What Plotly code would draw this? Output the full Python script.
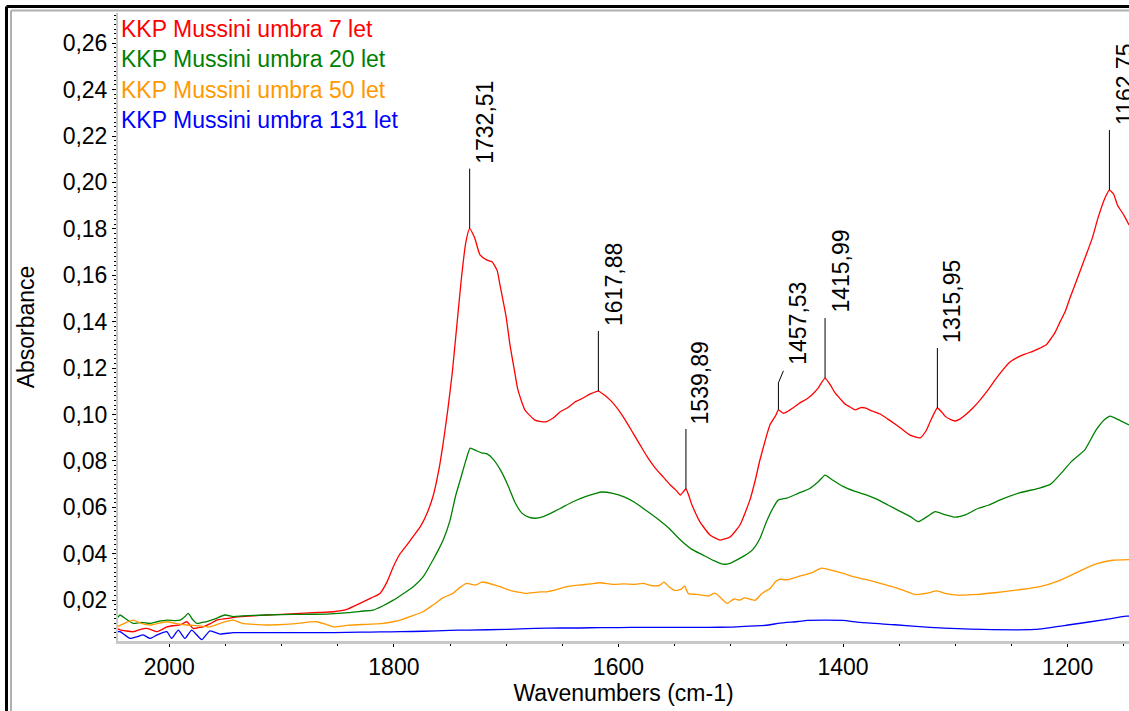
import numpy as np
import plotly.graph_objects as go

# ---- spectra (wavenumber cm-1, absorbance) ----
red_w = [2046.8, 2043.9, 2032.3, 2027, 2020.1, 2015, 2011.2, 2006, 2002.3, 1996, 1990.5,
         1984.5, 1978.6, 1974, 1969.7, 1963, 1957.8, 1950, 1937.0, 1925, 1913.3, 1900,
         1883.6, 1868, 1853.9, 1842, 1830.2, 1820, 1812.4, 1806, 1800.5, 1794.5, 1788,
         1782, 1776, 1770, 1765, 1760, 1756, 1752, 1748, 1744, 1740, 1736, 1732.51, 1728,
         1723.3, 1717, 1712.6, 1708, 1705.5, 1700, 1696.6, 1693, 1689.5, 1683.3, 1674.4,
         1665.5, 1658, 1652.1, 1645, 1638.7, 1632, 1625.4, 1617.88, 1607.3, 1600, 1593.9,
         1587, 1580.6, 1574, 1567.2, 1560, 1553.8, 1548, 1544.9, 1539.89, 1534.5, 1527.4,
         1518.5, 1509.6, 1500.7, 1491.8, 1482.9, 1478, 1474.0, 1468, 1465.1, 1460, 1457.53,
         1453, 1450.0, 1444, 1438.4, 1432, 1427.8, 1422, 1415.99, 1411, 1407.1, 1402, 1398.2,
         1393, 1389.3, 1384, 1380.4, 1374, 1367.0, 1360, 1353.7, 1347, 1340.3, 1331.4, 1326,
         1322.5, 1315.95, 1312, 1309.2, 1304, 1300.3, 1296, 1291.4, 1285, 1278.0, 1271,
         1264.7, 1258, 1251.3, 1245, 1238.0, 1231, 1224.6, 1219, 1215.7, 1211, 1206.8, 1202,
         1197.9, 1191, 1184.5, 1178, 1172.9, 1166.7, 1162.75, 1159, 1155.6, 1150, 1145.3]
red_a = [0.0078, 0.0072, 0.0064, 0.0072, 0.0078, 0.0070, 0.0064, 0.0075, 0.0085, 0.0090, 0.0093,
         0.0107, 0.0078, 0.0082, 0.0085, 0.0100, 0.0114, 0.0120, 0.0129, 0.0132, 0.0136, 0.0139,
         0.0143, 0.0147, 0.0150, 0.0160, 0.0186, 0.0210, 0.0229, 0.0280, 0.0344, 0.0400, 0.0440,
         0.0480, 0.0520, 0.0580, 0.0650, 0.0760, 0.0880, 0.1020, 0.1180, 0.1380, 0.1580, 0.1740, 0.1801, 0.1760,
         0.1688, 0.1665, 0.1658, 0.1620, 0.1558, 0.1420, 0.1300, 0.1200, 0.1106, 0.1020, 0.0976,
         0.0968, 0.0985, 0.1011, 0.1030, 0.1054, 0.1070, 0.1088, 0.1101, 0.1062, 0.1020, 0.0976,
         0.0920, 0.0868, 0.0815, 0.0769, 0.0730, 0.0696, 0.0670, 0.0653, 0.0679, 0.0610, 0.0537,
         0.0481, 0.0459, 0.0472, 0.0524, 0.0632, 0.0720, 0.0804, 0.0910, 0.0955, 0.0995, 0.1020,
         0.1005, 0.1011, 0.1030, 0.1050, 0.1068, 0.1084, 0.1115, 0.1157, 0.1125, 0.1093, 0.1065, 0.1045,
         0.1030, 0.1020, 0.1030, 0.1028, 0.1015, 0.1002, 0.0980, 0.0959, 0.0935, 0.0911, 0.0899, 0.0930,
         0.0968, 0.1028, 0.1010, 0.0993, 0.0978, 0.0972, 0.0980, 0.0997, 0.1025, 0.1062, 0.1105,
         0.1148, 0.1190, 0.1226, 0.1245, 0.1260, 0.1272, 0.1286, 0.1300, 0.1321, 0.1355, 0.1398, 0.1445,
         0.1502, 0.1590, 0.1674, 0.1760, 0.1847, 0.1933, 0.1967, 0.1950, 0.1903, 0.1860, 0.1817]

green_w = [2046.8, 2043.9, 2039, 2032.3, 2025, 2017.2, 2010, 2002.3, 1995, 1990.5, 1986, 1983.1,
           1979, 1975.6, 1970, 1966.7, 1960, 1950.4, 1943.0, 1935, 1925, 1913.3, 1900, 1880,
           1860, 1840, 1830, 1818.6, 1810, 1800.5, 1791, 1782.7, 1774, 1765.2, 1760, 1756,
           1750, 1745, 1741, 1736, 1732, 1727, 1722, 1717, 1712, 1705, 1698, 1692, 1686, 1680,
           1674, 1667, 1660, 1650, 1640, 1630, 1620, 1615, 1605, 1595, 1585, 1575, 1565, 1555,
           1545, 1535, 1525, 1515, 1507, 1500, 1492, 1485, 1480, 1474, 1468, 1462, 1457.7, 1450,
           1440, 1430, 1422, 1416, 1410, 1400, 1390, 1380, 1370, 1360, 1350, 1340, 1333, 1325,
           1318, 1310, 1300, 1290, 1280, 1270, 1260, 1243, 1225, 1215, 1207, 1196, 1184.5, 1175,
           1167, 1162, 1155, 1145.3]
green_a = [0.0120, 0.0136, 0.0120, 0.0100, 0.0104, 0.0100, 0.0108, 0.0114, 0.0112, 0.0114, 0.0130, 0.0143,
           0.0115, 0.0100, 0.0105, 0.0107, 0.0118, 0.0136, 0.0129, 0.0132, 0.0134, 0.0136, 0.0138, 0.0139,
           0.0140, 0.0146, 0.0152, 0.0157, 0.0175, 0.0200, 0.0230, 0.0258, 0.0300, 0.0373, 0.0420, 0.0460,
           0.0544, 0.0650, 0.0716, 0.0800, 0.0855, 0.0845, 0.0835, 0.0830, 0.0810, 0.0760, 0.0690, 0.0620, 0.0575, 0.0558,
           0.0553, 0.0560, 0.0575, 0.0600, 0.0625, 0.0645, 0.0660, 0.0666, 0.0660, 0.0645, 0.0620, 0.0585, 0.0550, 0.0510,
           0.0460, 0.0420, 0.0395, 0.0370, 0.0355, 0.0360, 0.0380, 0.0400, 0.0420, 0.0466, 0.0540, 0.0600, 0.0631, 0.0640,
           0.0660, 0.0680, 0.0710, 0.0739, 0.0720, 0.0690, 0.0670, 0.0655, 0.0635, 0.0610, 0.0585, 0.0560, 0.0538, 0.0560,
           0.0581, 0.0570, 0.0558, 0.0570, 0.0595, 0.0610, 0.0632, 0.0662, 0.0683, 0.0700, 0.0740, 0.0800, 0.0849, 0.0930,
           0.0978, 0.0993, 0.0978, 0.0955]

orange_w = [2046.8, 2040, 2032.3, 2025, 2017.2, 2010, 2002.3, 1995, 1984.5, 1975, 1963.8, 1955,
            1943.0, 1935, 1913.3, 1890, 1868.7, 1860, 1853.9, 1840, 1809.7, 1800, 1794.5, 1785,
            1774.1, 1765.2, 1756.3, 1747.4, 1741, 1735.2, 1727, 1722, 1717.4, 1710, 1705.5, 1695,
            1686, 1681.7, 1672, 1663.9, 1655, 1646.1, 1635, 1625, 1616.5, 1605, 1595, 1585, 1578,
            1570, 1563, 1559.5, 1555, 1550, 1545, 1541, 1537.7, 1530, 1520, 1514, 1509.6, 1503.4,
            1497, 1492, 1487.7, 1478.4, 1472.2, 1465, 1460, 1456.5, 1450, 1437.8, 1428, 1419.1,
            1410, 1400.4, 1390, 1378.7, 1365, 1353.8, 1345, 1335.1, 1325, 1316.4, 1308, 1297.7,
            1280, 1265, 1247.8, 1235, 1222.9, 1210, 1198, 1185, 1173, 1160, 1145.3]
orange_a = [0.0085, 0.0100, 0.0114, 0.0100, 0.0093, 0.0100, 0.0107, 0.0100, 0.0093, 0.0090, 0.0085, 0.0100,
            0.0114, 0.0100, 0.0093, 0.0098, 0.0107, 0.0095, 0.0085, 0.0092, 0.0100, 0.0108, 0.0114, 0.0130,
            0.0150, 0.0179, 0.0210, 0.0229, 0.0255, 0.0272, 0.0265, 0.0278, 0.0275, 0.0265, 0.0258, 0.0240,
            0.0232, 0.0229, 0.0235, 0.0236, 0.0245, 0.0258, 0.0265, 0.0270, 0.0275, 0.0268, 0.0270, 0.0268, 0.0272,
            0.0262, 0.0265, 0.0278, 0.0258, 0.0242, 0.0245, 0.0260, 0.0228, 0.0225, 0.0218, 0.0230, 0.0214, 0.0186,
            0.0205, 0.0200, 0.0210, 0.0199, 0.0229, 0.0250, 0.0280, 0.0290, 0.0288, 0.0305, 0.0318, 0.0338,
            0.0328, 0.0316, 0.0300, 0.0288, 0.0270, 0.0255, 0.0240, 0.0224, 0.0230, 0.0240, 0.0228, 0.0222,
            0.0225, 0.0232, 0.0242, 0.0250, 0.0260, 0.0280, 0.0305, 0.0335, 0.0358, 0.0372, 0.0375]

blue_w = [2046.8, 2043.9, 2035.0, 2029, 2023.2, 2017.2, 2011, 2002.3, 1997.9, 1992.0, 1986.0,
          1980.1, 1971.1, 1963.8, 1954.9, 1943.0, 1913.3, 1880, 1853.9, 1830, 1812, 1794,
          1774.1, 1750, 1733.5, 1700, 1674.4, 1650, 1634, 1616.5, 1600, 1578, 1550, 1520,
          1500, 1487.7, 1474, 1465, 1456.5, 1440, 1431.6, 1400.4, 1385, 1353.8, 1322.6,
          1275.8, 1229.1, 1198, 1166.8, 1148, 1145.3]
blue_a = [0.0064, 0.0064, 0.0035, 0.0042, 0.0050, 0.0035, 0.0050, 0.0064, 0.0035, 0.0071, 0.0035,
          0.0071, 0.0030, 0.0068, 0.0054, 0.0060, 0.0060, 0.0060, 0.0060, 0.0062, 0.0063, 0.0064,
          0.0066, 0.0070, 0.0071, 0.0074, 0.0078, 0.0080, 0.0080, 0.0082, 0.0082, 0.0083, 0.0083, 0.0083,
          0.0084, 0.0087, 0.0090, 0.0094, 0.0101, 0.0108, 0.0113, 0.0113, 0.0104, 0.0094, 0.0083,
          0.0074, 0.0074, 0.0094, 0.0116, 0.0131, 0.0131]

series_names = ["KKP Mussini umbra 7 let", "KKP Mussini umbra 20 let",
                "KKP Mussini umbra 50 let", "KKP Mussini umbra 131 let"]
series_colors = ["#FF0000", "#008000", "#FF9900", "#0000FF"]

# peaks marked on the 7-year spectrum
peak_w = [1732.51, 1617.88, 1539.89, 1457.53, 1415.99, 1315.95, 1162.75]

x_range = [2045.7, 1145.3]
y_range = [0.0024, 0.273]
FONT = "Liberation Sans, Arial, sans-serif"
FS = 23

fig = go.Figure()
for w, a, name, col in zip([red_w, green_w, orange_w, blue_w],
                           [red_a, green_a, orange_a, blue_a],
                           series_names, series_colors):
    fig.add_trace(go.Scatter(x=w, y=a, mode="lines", name=name,
                             line=dict(color=col, width=1.3, shape="spline", smoothing=0.5),
                             showlegend=False, hoverinfo="skip"))

# colored series names in the upper left corner
for i, (name, col) in enumerate(zip(series_names, series_colors)):
    fig.add_annotation(xref="paper", yref="paper", x=0, y=1, xanchor="left", yanchor="middle",
                       xshift=1, yshift=-16 - 30.4 * i, text=name, showarrow=False,
                       font=dict(family=FONT, size=FS, color=col))

# peak leader lines and rotated labels
red_arr_w = np.array(red_w)[::-1]
red_arr_a = np.array(red_a)[::-1]
for pw in peak_w:
    pa = float(np.interp(pw, red_arr_w, red_arr_a))
    label = f"{pw:.2f}".replace(".", ",")
    if abs(pw - 1457.53) < 1e-6:
        fig.add_shape(type="path", xref="x", yref="y", xsizemode="pixel", ysizemode="pixel",
                      xanchor=pw, yanchor=pa, path="M0,0 L0,27 L5,39",
                      line=dict(color="black", width=1))
        xs, ys = 20, 43
    else:
        fig.add_shape(type="line", xref="x", yref="y", ysizemode="pixel", yanchor=pa,
                      x0=pw, x1=pw, y0=0, y1=60, line=dict(color="black", width=1))
        xs, ys = 15, 63
    fig.add_annotation(x=pw, y=pa, xref="x", yref="y", text=label, textangle=-90,
                       showarrow=False, xanchor="center", yanchor="bottom",
                       xshift=xs, yshift=ys, font=dict(family=FONT, size=FS, color="black"))

# window frame (black outer, grey inner) on the top and left
frame = [(-111.5, "black", 3, 6.5), (-107, "#b0b0b0", 2, 2.5)]
for xo, col, lw, yo in frame:
    fig.add_shape(type="line", xref="paper", yref="paper", xsizemode="pixel", ysizemode="pixel",
                  xanchor=0, yanchor=1, x0=xo, x1=xo, y0=yo, y1=-720,
                  line=dict(color=col, width=lw))
    fig.add_shape(type="line", xref="paper", yref="paper", xsizemode="pixel", ysizemode="pixel",
                  xanchor=0, yanchor=1, x0=xo, x1=1200, y0=yo, y1=yo,
                  line=dict(color=col, width=lw))

fig.update_layout(
    width=1129, height=711,
    margin=dict(l=118, r=0, t=13, b=70),
    paper_bgcolor="white", plot_bgcolor="white",
    separators=", ",
    font=dict(family=FONT, size=FS, color="black"),
    xaxis=dict(range=x_range, showgrid=False, zeroline=False,
               showline=True, linecolor="#c8c8c8", linewidth=3,
               ticks="outside", ticklen=3, tickwidth=1, tickcolor="black",
               dtick=200, tick0=2000,
               minor=dict(dtick=50, ticks="outside", ticklen=2, tickcolor="black"),
               tickfont=dict(family=FONT, size=FS),
               title=dict(text="Wavenumbers (cm-1)", standoff=7,
                          font=dict(family=FONT, size=FS))),
    yaxis=dict(range=y_range, showgrid=False, zeroline=False,
               showline=True, linecolor="#c8c8c8", linewidth=2,
               ticks="outside", ticklen=4, tickwidth=1, tickcolor="black",
               dtick=0.02, tick0=0, tickformat=".2f",
               minor=dict(dtick=0.002, ticks="outside", ticklen=2, tickcolor="black"),
               tickfont=dict(family=FONT, size=FS),
               title=dict(text="Absorbance", standoff=22,
                          font=dict(family=FONT, size=FS))),
)

fig.write_html("out.html")
